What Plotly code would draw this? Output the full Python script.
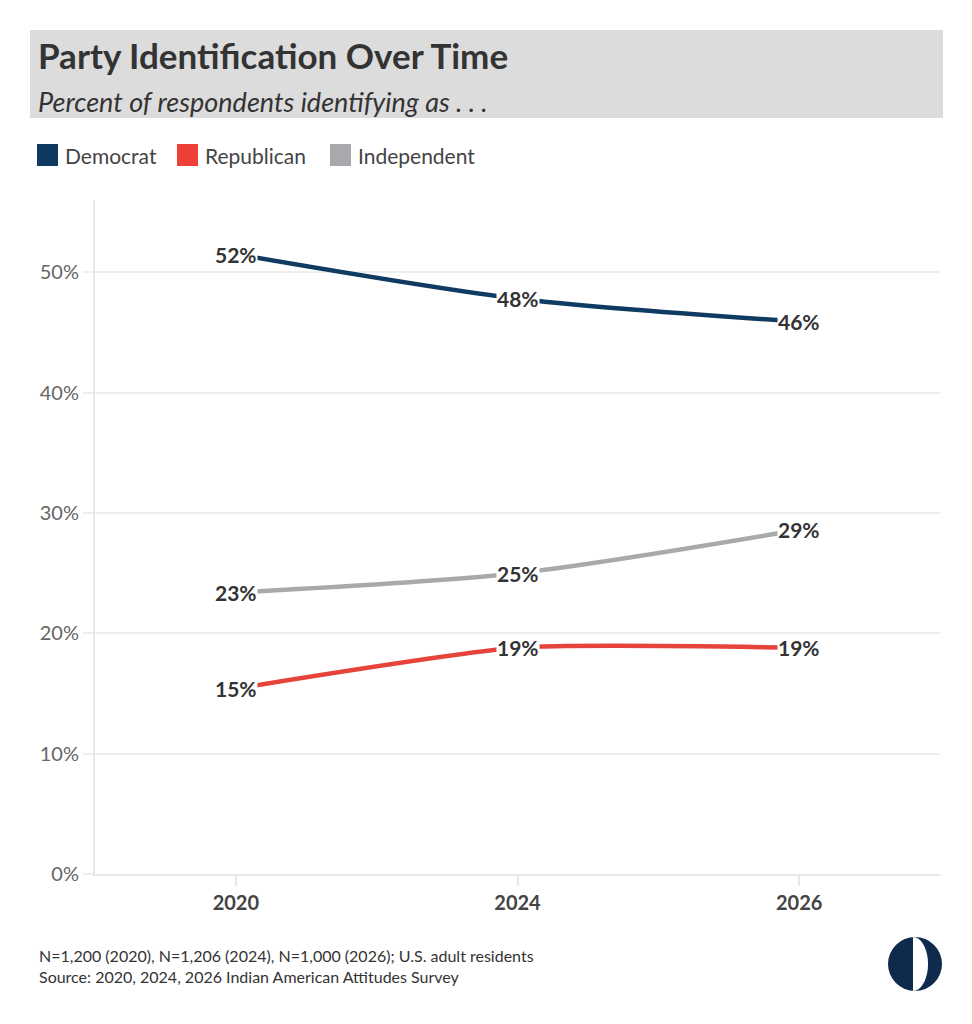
import plotly.graph_objects as go

years = ["2020", "2024", "2026"]
democrat = [51.5, 47.8, 45.9]
republican = [15.4, 18.8, 18.8]
independent = [23.4, 25.0, 28.6]
y_ticks = [0, 10, 20, 30, 40, 50]
y_tick_text = ["0%", "10%", "20%", "30%", "40%", "50%"]

series = [
    ("Democrat", democrat, "#0f3a62", "#0e3a62", 0.8),
    ("Republican", republican, "#e6433a", "#ee4036", 0.55),
    ("Independent", independent, "#a9a9a9", "#a7a9ac", 0.8),
]

FONT = "Lato"
OFF = 8  # page body margin
W, H = 972 - OFF, 1024 - OFF
L, R, T, B = 95 - OFF, 32, 200 - OFF, 150
PW, PH = W - L - R, H - T - B


def px(x):
    return (x - OFF - L) / PW


def py(y):
    return (H - B - (y - OFF)) / PH


fig = go.Figure()

for name, vals, lc, _, sm in series:
    fig.add_trace(go.Scatter(
        x=years, y=vals, mode="lines", name=name, showlegend=False,
        line=dict(color=lc, width=4.5, shape="spline", smoothing=sm),
        hoverinfo="skip",
    ))

annotations = []
for name, vals, _, _, _ in series:
    for i, v in enumerate(vals):
        annotations.append(dict(
            x=i, y=v, xref="x", yref="y", text=f"<b>{round(v)}%</b>",
            showarrow=False, xanchor="center", yanchor="middle",
            bgcolor="white", borderpad=0,
            font=dict(family=FONT, size=21, color="#333333"),
        ))

annotations += [
    dict(x=px(36), y=py(55), xref="paper", yref="paper", xanchor="left", yanchor="middle",
         text="<b>Party Identification Over Time</b>", showarrow=False,
         font=dict(family=FONT, size=35, color="#333333")),
    dict(x=px(36), y=py(102), xref="paper", yref="paper", xanchor="left", yanchor="middle",
         text="<i>Percent of respondents identifying as . . .</i>", showarrow=False,
         font=dict(family=FONT, size=27, color="#333333")),
    dict(x=px(37), y=py(955), xref="paper", yref="paper", xanchor="left", yanchor="middle",
         text="N=1,200 (2020), N=1,206 (2024), N=1,000 (2026); U.S. adult residents",
         showarrow=False, font=dict(family=FONT, size=16, color="#333333")),
    dict(x=px(37), y=py(977), xref="paper", yref="paper", xanchor="left", yanchor="middle",
         text="Source: 2020, 2024, 2026 Indian American Attitudes Survey",
         showarrow=False, font=dict(family=FONT, size=16, color="#333333")),
]

k = 0.5523
rx, ry = 15, 27
half = (f"M 0,{ry} C {rx*k:.2f},{ry} {rx},{ry*k:.2f} {rx},0 "
        f"C {rx},{-ry*k:.2f} {rx*k:.2f},{-ry} 0,{-ry} Z")

shapes = [
    dict(type="rect", xref="paper", yref="paper", x0=px(30), x1=px(943), y0=py(118), y1=py(30),
         fillcolor="#dcdcdc", line=dict(width=0), layer="below"),
    dict(type="circle", xref="paper", yref="paper", xsizemode="pixel", ysizemode="pixel",
         xanchor=px(915), yanchor=py(964), x0=-27, x1=27, y0=-27, y1=27,
         fillcolor="#0e2a4d", line=dict(width=0)),
    dict(type="path", xref="paper", yref="paper", xsizemode="pixel", ysizemode="pixel",
         xanchor=px(913), yanchor=py(964), path=half,
         fillcolor="white", line=dict(width=0)),
]

# legend drawn as squares + labels
legend_sq_x = [37, 177, 330]
for (name, _, _, mc, _), sx in zip(series, legend_sq_x):
    shapes.append(dict(type="rect", xref="paper", yref="paper",
                       x0=px(sx), x1=px(sx + 21), y0=py(166), y1=py(144),
                       fillcolor=mc, line=dict(width=0)))
    annotations.append(dict(x=px(sx + 26), y=py(155), xref="paper", yref="paper",
                            xanchor="left", yanchor="middle", text=name, showarrow=False,
                            font=dict(family=FONT, size=21, color="#444444")))

fig.update_layout(
    width=W, height=H,
    margin=dict(l=L, r=R, t=T, b=B),
    paper_bgcolor="white", plot_bgcolor="white",
    font=dict(family=FONT),
    showlegend=False,
    annotations=annotations,
    shapes=shapes,
    xaxis=dict(
        type="category", range=[-0.5, 2.5], showgrid=False,
        showline=True, linecolor="#e8e8e8", linewidth=2,
        ticks="outside", ticklen=10, tickcolor="#e8e8e8", tickwidth=2,
        tickfont=dict(family=FONT, size=20, color="#444444", weight="bold"),
        zeroline=False, fixedrange=True,
    ),
    yaxis=dict(
        range=[0, 56], tickvals=y_ticks, ticktext=y_tick_text,
        showgrid=True, gridcolor="#eeeeee", gridwidth=2,
        showline=True, linecolor="#e8e8e8", linewidth=2,
        ticks="outside", ticklen=10, tickcolor="#eeeeee", tickwidth=2,
        tickfont=dict(family=FONT, size=20, color="#666666"),
        zeroline=False, fixedrange=True,
    ),
)

fig.write_html("out.html")
